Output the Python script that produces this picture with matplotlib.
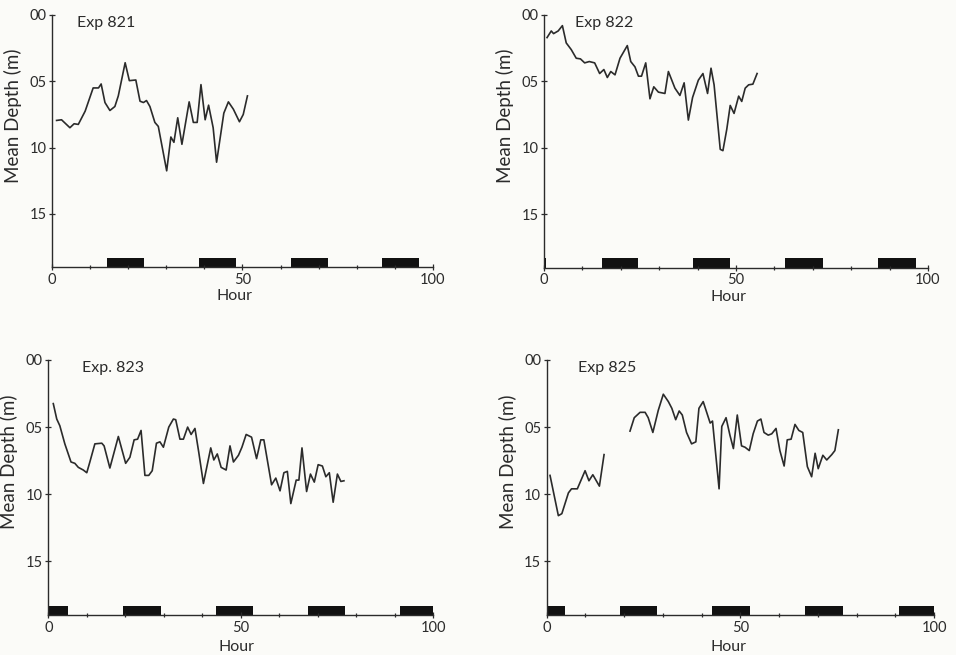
import numpy as np
import matplotlib
matplotlib.use('Agg')
import matplotlib.pyplot as plt

plt.rcParams['font.family'] = ['Lato', 'DejaVu Sans']

# Exp 821
hours_821 = [1.2, 2.5, 4.7, 5.8, 6.9, 8.7, 10.8, 12.2, 12.9, 13.9, 15.2, 16.5, 17.4, 19.2, 20.3,
             22.0, 23.1, 24.0, 24.8, 25.7, 27.0, 27.9, 30.1, 31.2, 32.0, 33.0, 34.1, 36.0, 37.1,
             38.1, 39.1, 40.2, 41.1, 42.3, 43.2, 45.1, 46.3, 47.6, 49.2, 50.2, 51.3]
depth_821 = [7.95, 7.9, 8.5, 8.2, 8.25, 7.25, 5.5, 5.5, 5.2, 6.6, 7.2, 6.9, 6.1, 3.6, 4.95,
             4.9, 6.5, 6.6, 6.45, 6.9, 8.1, 8.4, 11.75, 9.2, 9.6, 7.75, 9.75, 6.55, 8.1,
             8.1, 5.25, 7.9, 6.8, 8.5, 11.1, 7.4, 6.55, 7.1, 8.05, 7.5, 6.1]

# Exp 822
hours_822 = [0.8, 1.9, 2.5, 3.7, 4.8, 5.8, 7.1, 8.4, 9.5, 10.6, 11.8, 13.2, 14.5, 15.6, 16.5,
             17.4, 18.5, 19.8, 21.7, 22.6, 23.7, 24.6, 25.4, 26.5, 27.6, 28.6, 29.8, 31.5, 32.4,
             34.1, 35.4, 36.5, 37.6, 38.7, 40.2, 41.4, 42.6, 43.5, 44.3, 45.9, 46.6, 47.6, 48.5,
             49.5, 50.7, 51.5, 52.4, 53.3, 54.4, 55.5]
depth_822 = [1.7, 1.2, 1.4, 1.2, 0.8, 2.1, 2.6, 3.25, 3.3, 3.6, 3.5, 3.6, 4.4, 4.1, 4.7,
             4.25, 4.5, 3.25, 2.3, 3.5, 3.9, 4.6, 4.6, 3.6, 6.3, 5.4, 5.8, 5.9, 4.25,
             5.5, 6.05, 5.1, 7.9, 6.2, 4.9, 4.4, 5.9, 4.0, 5.25, 10.1, 10.2, 8.6, 6.8,
             7.4, 6.1, 6.5, 5.5, 5.25, 5.2, 4.4]

# Exp 823
hours_823 = [1.3, 2.2, 3.0, 4.3, 5.9, 6.9, 7.8, 9.1, 10.0, 10.8, 12.1, 13.9, 14.5, 16.0, 18.2,
             20.1, 21.2, 22.3, 23.2, 24.1, 25.1, 26.1, 27.0, 28.1, 29.0, 29.9, 31.3, 32.5, 33.1,
             34.2, 35.1, 36.2, 37.1, 38.1, 39.1, 40.3, 42.2, 43.0, 43.9, 44.9, 46.2, 47.2, 48.1,
             49.4, 50.3, 51.4, 52.8, 54.1, 55.2, 56.0, 58.0, 59.1, 60.2, 61.2, 62.1, 63.0, 64.4,
             65.1, 65.9, 67.1, 68.1, 69.1, 70.1, 71.2, 72.1, 73.0, 74.0, 75.1, 76.0, 76.8]
depth_823 = [3.25, 4.4, 4.9, 6.25, 7.6, 7.7, 8.0, 8.2, 8.4, 7.6, 6.25, 6.2, 6.4, 8.05, 5.7,
             7.7, 7.25, 5.95, 5.9, 5.25, 8.6, 8.6, 8.25, 6.2, 6.1, 6.5, 5.0, 4.4, 4.45,
             5.9, 5.9, 5.0, 5.55, 5.1, 6.9, 9.2, 6.55, 7.45, 7.0, 8.0, 8.2, 6.4, 7.6,
             7.1, 6.5, 5.55, 5.75, 7.35, 5.95, 5.95, 9.3, 8.8, 9.75, 8.4, 8.3, 10.7, 8.95,
             8.95, 6.55, 9.8, 8.5, 9.1, 7.8, 7.9, 8.7, 8.4, 10.6, 8.5, 9.05, 9.0]

# Exp 825 (gap in the record between ~15 h and ~21 h)
hours_825 = [0.85, 3.0, 3.9, 5.6, 6.4, 7.9, 9.9, 10.9, 11.9, 13.6, 14.8, 18.0,
             21.5, 22.6, 24.1, 25.4, 26.2, 27.4, 28.8, 30.1, 31.4, 32.3, 33.3, 34.2, 35.0,
             36.1, 37.4, 38.5, 39.3, 40.4, 42.2, 42.8, 44.5, 45.2, 46.3, 47.3, 48.2, 49.2,
             50.3, 51.2, 52.3, 53.3, 54.4, 55.3, 56.1, 57.2, 58.1, 59.2, 60.2, 61.3, 62.1,
             63.1, 64.1, 65.1, 66.1, 67.3, 68.4, 69.3, 70.1, 71.3, 72.3, 73.6, 74.4, 75.3]
depth_825 = [8.6, 11.6, 11.45, 9.9, 9.6, 9.6, 8.25, 9.0, 8.55, 9.4, 7.05, np.nan,
             5.3, 4.3, 3.9, 3.9, 4.3, 5.4, 3.75, 2.55, 3.1, 3.6, 4.45, 3.8, 4.1,
             5.4, 6.25, 6.1, 3.6, 3.1, 4.7, 4.55, 9.6, 4.95, 4.3, 5.6, 6.6, 4.1,
             6.4, 6.5, 6.75, 5.5, 4.55, 4.4, 5.4, 5.6, 5.5, 5.1, 6.75, 7.9, 5.95,
             5.9, 4.8, 5.25, 5.4, 7.95, 8.7, 6.95, 8.1, 7.1, 7.45, 7.05, 6.75, 5.2]

# night periods (start hour, length)
nights_821 = [(14.5, 9.6), (38.6, 9.7), (62.7, 9.7), (86.7, 9.6)]
nights_822 = [(0.0, 0.5), (15.0, 9.5), (38.9, 9.6), (62.8, 9.9), (86.9, 9.9)]
nights_823 = [(0.0, 5.0), (19.5, 9.7), (43.5, 9.6), (67.4, 9.7), (91.3, 8.7)]
nights_825 = [(0.0, 4.7), (18.8, 9.7), (42.8, 9.6), (66.8, 9.7), (90.9, 9.1)]

ink = '#2b2b2b'


def draw_panel(ax, hours, depth, nights, title, title_x):
    ax.set_facecolor('none')
    ax.plot(hours, depth, color=ink, linewidth=1.2)
    ax.broken_barh(nights, (18.3, 0.7), facecolors='#111111', edgecolor='none')

    ax.set_xlim(0, 100)
    ax.set_ylim(19, 0)
    for side in ['top', 'right']:
        ax.spines[side].set_visible(False)
    for side in ['left', 'bottom']:
        ax.spines[side].set_color(ink)
        ax.spines[side].set_linewidth(1.0)

    ax.set_xticks([0, 50, 100])
    ax.set_xticklabels(['0', '50', '100'])
    ax.set_xticks(range(10, 100, 10), minor=True)
    ax.set_yticks([0, 5, 10, 15])
    ax.set_yticklabels(['00', '05', '10', '15'])
    ax.tick_params(axis='both', which='major', direction='inout', length=4, width=0.9,
                   colors=ink, labelsize=10.5, pad=2)
    ax.tick_params(axis='x', which='minor', direction='inout', length=3, width=0.9, colors=ink)

    ax.set_xlabel('Hour', fontsize=11.5, color=ink)
    ax.set_ylabel('Mean Depth (m)', fontsize=13.5, color=ink)
    ax.yaxis.set_label_coords(-0.078, 0.6)
    ax.text(title_x, 0.97, title, transform=ax.transAxes, fontsize=11.5, color=ink,
            va='center', ha='left')


fig = plt.figure(figsize=(9.56, 6.55), dpi=100)
fig.patch.set_facecolor('#fbfbf8')

ax1 = fig.add_axes([0.0544, 0.5924, 0.3985, 0.3847])
ax2 = fig.add_axes([0.5690, 0.5913, 0.4017, 0.3858])
ax3 = fig.add_axes([0.0505, 0.0611, 0.4027, 0.3893])
ax4 = fig.add_axes([0.5719, 0.0611, 0.4051, 0.3893])

draw_panel(ax1, hours_821, depth_821, nights_821, 'Exp 821', 0.066)
draw_panel(ax2, hours_822, depth_822, nights_822, 'Exp 822', 0.080)
draw_panel(ax3, hours_823, depth_823, nights_823, 'Exp. 823', 0.087)
draw_panel(ax4, hours_825, depth_825, nights_825, 'Exp 825', 0.082)

ax1.xaxis.set_label_coords(0.48, -0.088)
ax2.xaxis.set_label_coords(0.48, -0.088)
ax3.xaxis.set_label_coords(0.49, -0.098)
ax4.xaxis.set_label_coords(0.47, -0.098)

fig.savefig('out.png', dpi=100, facecolor=fig.get_facecolor())
